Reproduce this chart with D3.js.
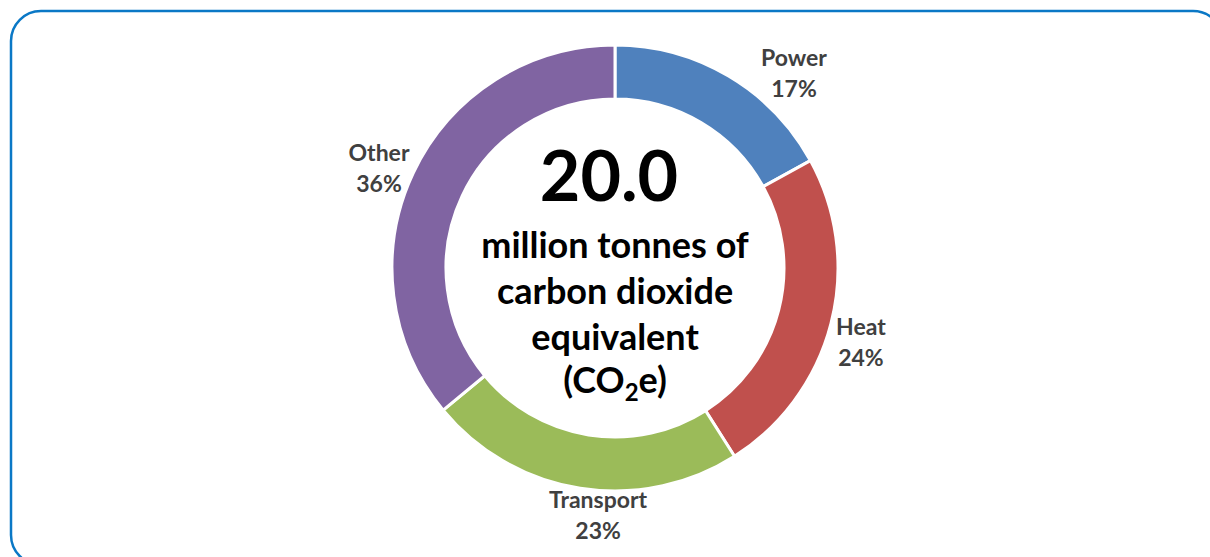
<!DOCTYPE html>
<html>
<head>
<meta charset="utf-8">
<script src="https://cdn.jsdelivr.net/npm/d3@7"></script>
<style>
  html, body { margin: 0; padding: 0; background: #ffffff; }
  svg { display: block; }
</style>
</head>
<body>
<svg id="chart" width="1210" height="557"></svg>
<script>
// Emission sources and their shares (%)
const categories = ["Power", "Heat", "Transport", "Other"];
const shares = [17, 24, 23, 36];
const totalValue = "20.0";
const unitLines = ["million tonnes of", "carbon dioxide", "equivalent"];

const colors = ["#4f81bd", "#c0504d", "#9bbb59", "#8064a2"];
// Where each outside label sits: angle (deg, clockwise from top) and distance from centre
const labelPlacement = [
  { angle: 42.7, dist: 264 },
  { angle: 106.9, dist: 257 },
  { angle: 183.9, dist: 249 },
  { angle: 292.8, dist: 256 }
];

const svg = d3.select("#chart");
const cx = 615, cy = 268;
const outerR = 223, innerR = 169;

// rounded frame
svg.append("rect")
  .attr("x", 11).attr("y", 11)
  .attr("width", 1212).attr("height", 554)
  .attr("rx", 30).attr("ry", 30)
  .attr("fill", "none")
  .attr("stroke", "#0a78c6")
  .attr("stroke-width", 2.5);

const data = categories.map((c, i) => ({ name: c, value: shares[i], color: colors[i], i }));

const pie = d3.pie().value(d => d.value).sort(null);
const arc = d3.arc().innerRadius(innerR).outerRadius(outerR);

const g = svg.append("g").attr("transform", `translate(${cx},${cy})`);

g.selectAll("path.slice")
  .data(pie(data))
  .join("path")
  .attr("class", "slice")
  .attr("d", arc)
  .attr("fill", d => d.data.color)
  .attr("stroke", "#ffffff")
  .attr("stroke-width", 3)
  .attr("stroke-linejoin", "miter");

// outside labels
const font = "Lato, 'Open Sans', sans-serif";
const lbl = g.selectAll("text.lbl")
  .data(pie(data))
  .join("text")
  .attr("class", "lbl")
  .attr("text-anchor", "middle")
  .attr("font-family", font)
  .attr("font-weight", 700)
  .attr("font-size", 23)
  .attr("fill", "#404040")
  .attr("transform", d => {
    const p = labelPlacement[d.data.i];
    const a = p.angle * Math.PI / 180;
    return `translate(${p.dist * Math.sin(a)},${-p.dist * Math.cos(a)})`;
  });
lbl.append("tspan").attr("x", 0).attr("y", -8).text(d => d.data.name);
lbl.append("tspan").attr("x", 0).attr("y", 23).text(d => d.data.value + "%");

// centre total
g.append("text")
  .attr("text-anchor", "middle")
  .attr("font-family", font)
  .attr("font-weight", 700)
  .attr("font-size", 70)
  .attr("fill", "#000000")
  .attr("x", -6).attr("y", -67)
  .text(totalValue);

const unit = g.append("text")
  .attr("text-anchor", "middle")
  .attr("font-family", font)
  .attr("font-weight", 700)
  .attr("font-size", 36)
  .attr("fill", "#000000");
unitLines.forEach((t, i) => {
  unit.append("tspan").attr("x", 0).attr("y", -10 + i * 46).text(t);
});
const co2 = unit.append("tspan").attr("x", 0).attr("y", 125);
co2.append("tspan").text("(CO");
co2.append("tspan").attr("font-size", 24).attr("dy", 8).text("2");
co2.append("tspan").attr("dy", -8).text("e)");
</script>
</body>
</html>
